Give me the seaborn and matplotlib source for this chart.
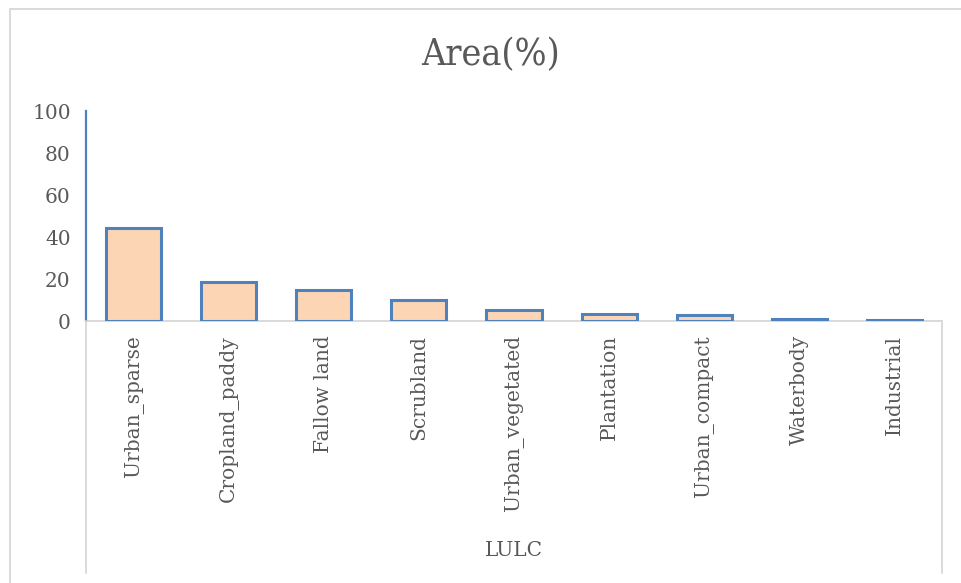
import matplotlib
matplotlib.use("Agg")
import matplotlib.pyplot as plt
import seaborn as sns
import pandas as pd
from matplotlib.lines import Line2D

# Land use / land cover classes and their share of the area (%)
categories = ["Urban_sparse", "Cropland_paddy", "Fallow land", "Scrubland",
              "Urban_vegetated", "Plantation", "Urban_compact", "Waterbody", "Industrial"]
area_pct = [44.5, 18.6, 14.9, 9.9, 5.1, 3.2, 2.7, 0.8, 0.5]
y_ticks = [0, 20, 40, 60, 80, 100]

df = pd.DataFrame({"LULC": categories, "Area": area_pct})

sns.set_theme(style="white")
plt.rcParams["font.family"] = ["DejaVu Serif"]

text_col = "#595959"
axis_gray = "#d9d9d9"
blue = "#4f81bd"
peach = "#fcd5b4"

W, H = 961, 583
fig = plt.figure(figsize=(W / 100, H / 100), dpi=100)
ax = fig.add_axes([86 / W, 1 - 321 / H, (942 - 86) / W, (321 - 111) / H])

sns.barplot(data=df, x="LULC", y="Area", color=peach, edgecolor=blue,
            linewidth=2.2, width=0.58, saturation=1, ax=ax)

ax.set_ylim(0, 100)
ax.set_xlim(-0.5, len(categories) - 0.5)
ax.set_yticks(y_ticks)
ax.set_yticklabels([str(v) for v in y_ticks], fontsize=14.5, color=text_col)
ax.tick_params(axis="y", length=0, pad=11)
ax.tick_params(axis="x", length=0, pad=10)
ax.set_xticks(range(len(categories)))
ax.set_xticklabels(categories, rotation=90, fontsize=14.5, color=text_col)
ax.set_xlabel("")
ax.set_ylabel("")

for s in ["top", "right"]:
    ax.spines[s].set_visible(False)
ax.spines["left"].set_color(blue)
ax.spines["left"].set_linewidth(1.6)
ax.spines["bottom"].set_color(axis_gray)
ax.spines["bottom"].set_linewidth(1.4)
ax.spines["bottom"].set_zorder(0.5)

# category-table frame under the axis
for xp in (86, 942):
    fig.add_artist(Line2D([xp / W, xp / W], [1 - 321 / H, 1 - 573 / H],
                          color=axis_gray, lw=1.4))
fig.text(514 / W, 1 - 551 / H, "LULC", ha="center", va="center",
         fontsize=14.5, color=text_col)

# title
fig.text(490 / W, 1 - 55 / H, "Area(%)", ha="center", va="center",
         fontsize=27, fontstretch="condensed", color=text_col)

# chart border (top and left edges)
fig.add_artist(Line2D([10 / W, 1.0], [1 - 9 / H, 1 - 9 / H], color=axis_gray, lw=1.4))
fig.add_artist(Line2D([10 / W, 10 / W], [0.0, 1 - 9 / H], color=axis_gray, lw=1.4))

fig.savefig("out.png", dpi=100, facecolor="white")
